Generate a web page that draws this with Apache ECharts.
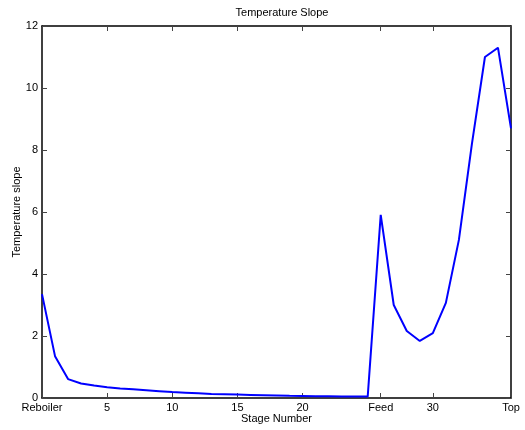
<!DOCTYPE html>
<html><head><meta charset="utf-8">
<script src="https://cdn.jsdelivr.net/npm/echarts@6/dist/echarts.min.js"></script>
<style>html,body{margin:0;padding:0;background:#fff}#c{width:525px;height:430px}</style>
</head><body><div id="c"></div>
<script>
const stages = [0,1,2,3,4,5,6,7,8,9,10,11,12,13,14,15,16,17,18,19,20,21,22,23,24,25,26,27,28,29,30,31,32,33,34,35,36];
const slope = [3.35,1.35,0.61,0.47,0.40,0.35,0.31,0.28,0.25,0.22,0.19,0.17,0.15,0.13,0.12,0.11,0.10,0.09,0.08,0.07,0.065,0.06,0.055,0.05,0.05,0.045,5.91,3.0,2.16,1.84,2.09,3.07,5.1,8.2,11.0,11.3,8.7];
const xTickValues = [0,5,10,15,20,26,30,36];
const xTickNames = {0:'Reboiler',26:'Feed',36:'Top'};
const yTicks = [0,2,4,6,8,10,12];

const font = 'Liberation Sans, Arial, sans-serif';
const chart = echarts.init(document.getElementById('c'), null, {renderer:'canvas'});
const lineStyle = {color:'#000', width:1.5};
const tickStyle = {color:'#444', width:1};
chart.setOption({
  animation:false,
  title:{text:'Temperature Slope', left:277, top:2, textAlign:'center',
    textStyle:{fontFamily:font, fontSize:11, fontWeight:'normal', color:'#000'}},
  grid:{left:42, right:14, top:26, bottom:32, containLabel:false, outerBoundsMode:'none'},
  xAxis:[{
    type:'value', min:0, max:36, position:'bottom',
    name:'Stage Number', nameLocation:'middle', nameGap:15, nameMoveOverlap:false,
    nameTextStyle:{fontFamily:font, fontSize:11, color:'#000'},
    axisLine:{show:true, onZero:false, lineStyle:lineStyle},
    axisTick:{show:true, inside:true, length:5, customValues:xTickValues, lineStyle:tickStyle},
    axisLabel:{customValues:xTickValues, margin:4, fontFamily:font, fontSize:11, color:'#000',
      formatter:v=> xTickNames[v] !== undefined ? xTickNames[v] : String(v)},
    splitLine:{show:false}
  },{
    type:'value', min:0, max:36, position:'top',
    axisLine:{show:true, onZero:false, lineStyle:lineStyle},
    axisTick:{show:true, inside:true, length:5, customValues:xTickValues, lineStyle:tickStyle},
    axisLabel:{show:false}, splitLine:{show:false}
  }],
  yAxis:[{
    type:'value', min:0, max:12, interval:2, position:'left',
    name:'Temperature slope', nameLocation:'middle', nameGap:20, nameMoveOverlap:false,
    nameTextStyle:{fontFamily:font, fontSize:11, color:'#000'},
    axisLine:{show:true, onZero:false, lineStyle:lineStyle},
    axisTick:{show:true, inside:true, length:5, lineStyle:tickStyle},
    axisLabel:{margin:4, fontFamily:font, fontSize:11, color:'#000'},
    splitLine:{show:false}
  },{
    type:'value', min:0, max:12, interval:2, position:'right',
    axisLine:{show:true, onZero:false, lineStyle:lineStyle},
    axisTick:{show:true, inside:true, length:5, lineStyle:tickStyle},
    axisLabel:{show:false}, splitLine:{show:false}
  }],
  series:[{
    type:'line', xAxisIndex:0, yAxisIndex:0,
    data: stages.map((s,i)=>[s, slope[i]]),
    showSymbol:false, symbol:'none',
    lineStyle:{color:'#0000ff', width:2},
    clip:true
  }]
});
</script></body></html>
